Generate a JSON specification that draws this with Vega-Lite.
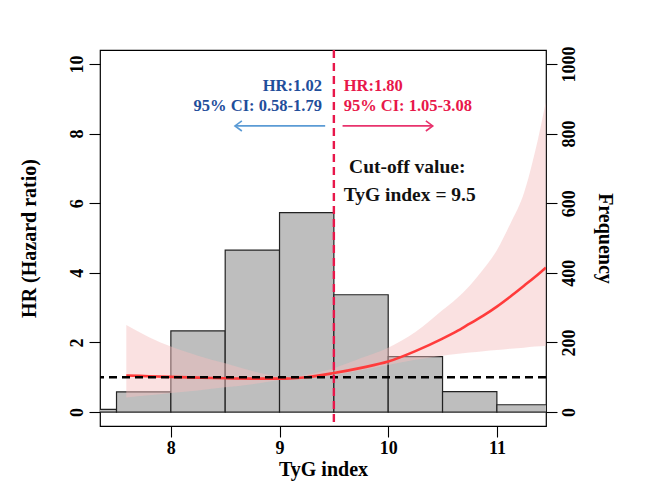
{
  "$schema": "https://vega.github.io/schema/vega-lite/v6.json",
  "width": 446,
  "height": 376,
  "autosize": {"type": "none"},
  "padding": {"left": 100, "top": 50, "right": 102, "bottom": 55},
  "background": "white",
  "config": {
    "view": {"stroke": "black", "strokeWidth": 1.2},
    "axis": {
      "domain": false,
      "grid": false,
      "ticks": true,
      "tickColor": "black",
      "tickSize": 11,
      "tickWidth": 1.1,
      "labelFont": "Liberation Serif",
      "labelFontWeight": "bold",
      "labelFontSize": 18,
      "labelColor": "black",
      "labelOverlap": false,
      "labelFlush": false,
      "format": "d",
      "titleFont": "Liberation Serif",
      "titleFontWeight": "bold",
      "titleFontSize": 20,
      "titleColor": "black"
    }
  },
  "datasets": {
    "hist": [
      {"x0": 7.0, "x1": 7.5, "count": 8},
      {"x0": 7.5, "x1": 8.0, "count": 58},
      {"x0": 8.0, "x1": 8.5, "count": 233},
      {"x0": 8.5, "x1": 9.0, "count": 465},
      {"x0": 9.0, "x1": 9.5, "count": 573},
      {"x0": 9.5, "x1": 10.0, "count": 337},
      {"x0": 10.0, "x1": 10.5, "count": 159},
      {"x0": 10.5, "x1": 11.0, "count": 59},
      {"x0": 11.0, "x1": 11.5, "count": 21}
    ],
    "curve": [
      {"x": 7.59, "hr": 1.05, "lo": 0.42, "hi": 2.5},
      {"x": 7.8, "hr": 1.03, "lo": 0.48, "hi": 2.15},
      {"x": 8.0, "hr": 1.01, "lo": 0.55, "hi": 1.88},
      {"x": 8.25, "hr": 0.99, "lo": 0.62, "hi": 1.62},
      {"x": 8.5, "hr": 0.97, "lo": 0.71, "hi": 1.4},
      {"x": 8.75, "hr": 0.96, "lo": 0.8, "hi": 1.18},
      {"x": 9.0, "hr": 0.96, "lo": 0.92, "hi": 1.01},
      {"x": 9.1, "hr": 0.965, "lo": 0.955, "hi": 0.975},
      {"x": 9.25, "hr": 1.0, "lo": 0.99, "hi": 1.07},
      {"x": 9.5, "hr": 1.12, "lo": 1.06, "hi": 1.26},
      {"x": 9.75, "hr": 1.27, "lo": 1.2, "hi": 1.55},
      {"x": 10.0, "hr": 1.45, "lo": 1.35, "hi": 1.85},
      {"x": 10.25, "hr": 1.75, "lo": 1.5, "hi": 2.3},
      {"x": 10.5, "hr": 2.11, "lo": 1.62, "hi": 2.93},
      {"x": 10.625, "hr": 2.31, "lo": 1.67, "hi": 3.25},
      {"x": 10.75, "hr": 2.54, "lo": 1.71, "hi": 3.63},
      {"x": 10.875, "hr": 2.77, "lo": 1.75, "hi": 4.1},
      {"x": 11.0, "hr": 3.03, "lo": 1.78, "hi": 4.65},
      {"x": 11.125, "hr": 3.32, "lo": 1.82, "hi": 5.42},
      {"x": 11.25, "hr": 3.63, "lo": 1.85, "hi": 6.3},
      {"x": 11.35, "hr": 3.88, "lo": 1.88, "hi": 7.46},
      {"x": 11.45, "hr": 4.15, "lo": 1.9, "hi": 8.9}
    ],
    "leftText": [
      {"x": 9.39, "hr": 9.37, "label": "HR:1.02"},
      {"x": 9.39, "hr": 8.79, "label": "95% CI: 0.58-1.79"}
    ],
    "rightText": [
      {"x": 9.59, "hr": 9.37, "label": "HR:1.80"},
      {"x": 9.59, "hr": 8.79, "label": "95% CI: 1.05-3.08"}
    ],
    "cutText": [
      {"x": 9.64, "hr": 7.04, "label": "Cut-off value:"},
      {"x": 9.59, "hr": 6.23, "label": "TyG index = 9.5"}
    ],
    "refs": [{"hr": 1, "cut": 9.5}],
    "blueArrow": [{"x": 8.59, "x2": 9.42, "hr": 8.22}],
    "redArrow": [{"x": 9.58, "x2": 10.41, "hr": 8.22}]
  },
  "layer": [
    {
      "data": {"name": "hist"},
      "mark": {"type": "rect", "fill": "#BEBEBE", "stroke": "#222222", "strokeWidth": 1.2, "clip": true},
      "encoding": {
        "x": {
          "field": "x0", "type": "quantitative",
          "scale": {"domain": [7.348, 11.452], "nice": false, "zero": false},
          "axis": {"values": [8, 9, 10, 11], "title": "TyG index", "labelPadding": 2, "titlePadding": 2}
        },
        "x2": {"field": "x1"},
        "y": {
          "field": "count", "type": "quantitative",
          "scale": {"domain": [-40, 1040], "nice": false, "zero": false},
          "axis": {"orient": "right", "values": [0, 200, 400, 600, 800, 1000], "title": "Frequency", "labelAngle": 270, "titleAngle": 90, "labelPadding": 3, "titlePadding": 16}
        },
        "y2": {"datum": 0}
      }
    },
    {
      "layer": [
        {
          "data": {"name": "curve"},
          "mark": {"type": "area", "color": "#F4BEBE", "opacity": 0.46, "interpolate": "monotone", "clip": true},
          "encoding": {
            "x": {"field": "x", "type": "quantitative"},
            "y": {
              "field": "lo", "type": "quantitative",
              "scale": {"domain": [-0.4, 10.4], "nice": false, "zero": false},
              "axis": {"orient": "left", "values": [0, 2, 4, 6, 8, 10], "title": "HR (Hazard ratio)", "labelAngle": 270, "labelPadding": 3, "titlePadding": 29}
            },
            "y2": {"field": "hi"}
          }
        },
        {
          "data": {"name": "curve"},
          "mark": {"type": "line", "color": "#FF3B3B", "strokeWidth": 2.6, "interpolate": "monotone", "clip": true},
          "encoding": {
            "x": {"field": "x", "type": "quantitative"},
            "y": {"field": "hr", "type": "quantitative"}
          }
        },
        {
          "data": {"name": "refs"},
          "mark": {"type": "rule", "color": "black", "strokeWidth": 2.4, "strokeDash": [8, 5]},
          "encoding": {"y": {"field": "hr", "type": "quantitative"}}
        },
        {
          "data": {"name": "refs"},
          "mark": {"type": "rule", "color": "#E8174A", "strokeWidth": 2.4, "strokeDash": [8, 5]},
          "encoding": {"x": {"field": "cut", "type": "quantitative"}}
        },
        {
          "data": {"name": "leftText"},
          "mark": {"type": "text", "align": "right", "baseline": "middle", "font": "Liberation Serif", "fontWeight": "bold", "fontSize": 16.5, "color": "#1F4E9B"},
          "encoding": {
            "x": {"field": "x", "type": "quantitative"},
            "y": {"field": "hr", "type": "quantitative"},
            "text": {"field": "label"}
          }
        },
        {
          "data": {"name": "rightText"},
          "mark": {"type": "text", "align": "left", "baseline": "middle", "font": "Liberation Serif", "fontWeight": "bold", "fontSize": 16.5, "color": "#E8174A"},
          "encoding": {
            "x": {"field": "x", "type": "quantitative"},
            "y": {"field": "hr", "type": "quantitative"},
            "text": {"field": "label"}
          }
        },
        {
          "data": {"name": "cutText"},
          "mark": {"type": "text", "align": "left", "baseline": "middle", "font": "Liberation Serif", "fontWeight": "bold", "fontSize": 19.5, "color": "#111111"},
          "encoding": {
            "x": {"field": "x", "type": "quantitative"},
            "y": {"field": "hr", "type": "quantitative"},
            "text": {"field": "label"}
          }
        },
        {
          "data": {"name": "blueArrow"},
          "mark": {"type": "rule", "color": "#5B9BD5", "strokeWidth": 1.6},
          "encoding": {
            "x": {"field": "x", "type": "quantitative"},
            "x2": {"field": "x2"},
            "y": {"field": "hr", "type": "quantitative"}
          }
        },
        {
          "data": {"name": "blueArrow"},
          "mark": {"type": "point", "shape": "M1.15,-0.85L0,0L1.15,0.85", "filled": false, "size": 144, "stroke": "#5B9BD5", "strokeWidth": 1.6, "opacity": 1},
          "encoding": {
            "x": {"field": "x", "type": "quantitative"},
            "y": {"field": "hr", "type": "quantitative"}
          }
        },
        {
          "data": {"name": "redArrow"},
          "mark": {"type": "rule", "color": "#E8336D", "strokeWidth": 1.6},
          "encoding": {
            "x": {"field": "x", "type": "quantitative"},
            "x2": {"field": "x2"},
            "y": {"field": "hr", "type": "quantitative"}
          }
        },
        {
          "data": {"name": "redArrow"},
          "mark": {"type": "point", "shape": "M-1.15,-0.85L0,0L-1.15,0.85", "filled": false, "size": 144, "stroke": "#E8336D", "strokeWidth": 1.6, "opacity": 1},
          "encoding": {
            "x": {"field": "x2", "type": "quantitative"},
            "y": {"field": "hr", "type": "quantitative"}
          }
        }
      ]
    }
  ],
  "resolve": {"scale": {"y": "independent"}, "axis": {"y": "independent"}}
}
